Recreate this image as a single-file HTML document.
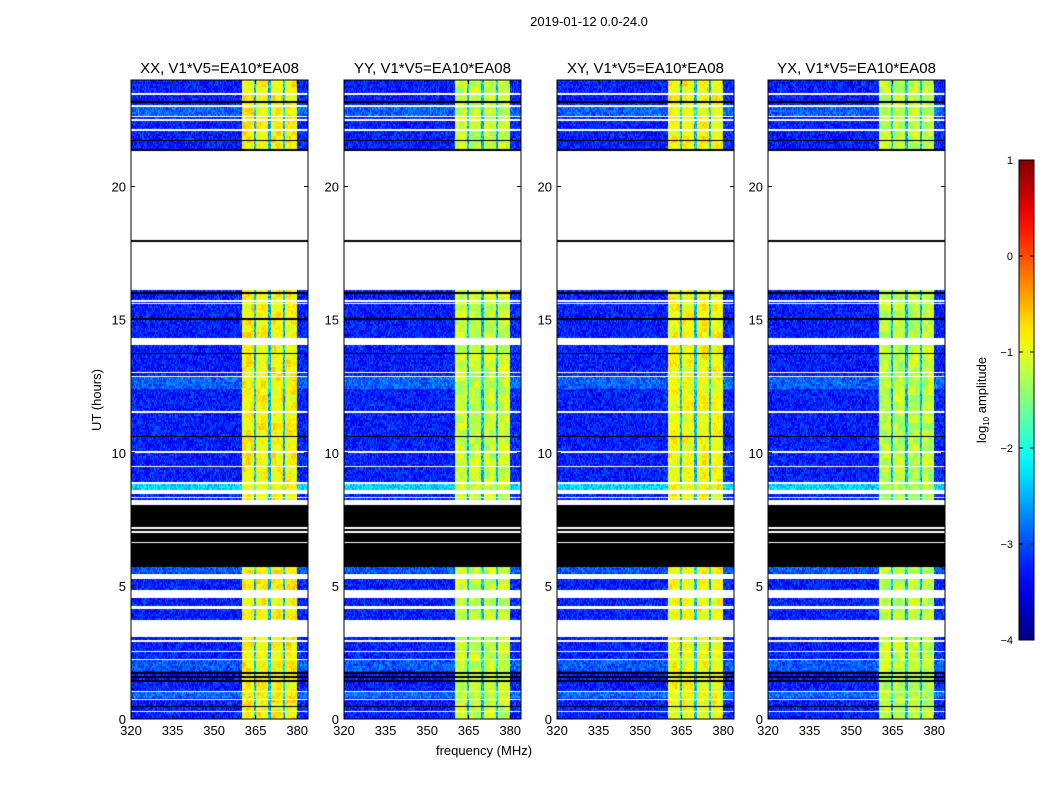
<!DOCTYPE html>
<html><head><meta charset="utf-8">
<style>
body{margin:0;background:#fff;width:1050px;height:800px;overflow:hidden;position:relative;font-family:"Liberation Sans",sans-serif;}
canvas{position:absolute;}
svg{position:absolute;left:0;top:0;}
</style></head>
<body>
<div id="panels"></div>
<svg id="ov" width="1050" height="800"></svg>
<script>
// ---- data arrays ----
const panelTitles = ["XX, V1*V5=EA10*EA08","YY, V1*V5=EA10*EA08","XY, V1*V5=EA10*EA08","YX, V1*V5=EA10*EA08"];
const panelLeft = [131,344,557,768];
const xTicks = [320,335,350,365,380];
const yTicks = [0,5,10,15,20];
const cbTicks = [1,0,-1,-2,-3,-4];
// frequency segments: [fStart, fEnd, level] (log10 amplitude); level 1 = use band level of panel
const freqSegs = [[320,360,-3.25],[360,364.5,1],[364.5,365.3,-2.5],[365.3,369.6,1],[369.6,370.4,-2.5],[370.4,374.8,1],[374.8,375.6,-2.5],[375.6,380,1],[380,384,-3.2]];
const bandLevel = [-0.85,-1.15,-0.9,-1.2];
// time rows: [tStart, tEnd, kind] kind: d=data, w=white(flagged), k=black
const timeRows = [
 [21.33,24,'d'],[23.45,23.52,'w'],[22.98,23.05,'w'],[22.6,22.66,'w'],[22.45,22.52,'w'],[22.08,22.15,'w'],[23.15,23.2,'k'],[21.7,21.76,'k'],[21.33,21.4,'k'],
 [17.95,21.33,'w'],[17.9,17.98,'k'],[16.11,17.9,'w'],
 [14.31,16.11,'d'],[15.66,15.72,'w'],[15.58,15.63,'w'],[15.98,16.02,'k'],[15.0,15.05,'k'],
 [14.05,14.31,'w'],[13.95,14.02,'w'],[13.85,13.9,'k'],
 [8.83,14.05,'d'],[12.98,13.04,'w'],[12.85,12.9,'w'],[11.5,11.55,'w'],[10.0,10.05,'w'],[9.45,9.5,'w'],[8.83,8.9,'w'],[13.7,13.74,'k'],[10.6,10.64,'k'],
 [8.6,8.83,'d'],[8.45,8.6,'w'],[8.23,8.45,'d'],[8.3,8.34,'w'],
 [8.04,8.23,'w'],[5.71,8.04,'k'],[7.15,7.2,'w'],[7.0,7.05,'w'],[6.6,6.65,'w'],
 [5.45,5.71,'d'],[5.26,5.45,'w'],[4.85,5.26,'d'],[4.54,4.85,'w'],[4.24,4.54,'d'],[4.12,4.24,'w'],[3.72,4.12,'d'],[3.08,3.72,'w'],
 [0,3.08,'d'],[2.9,2.95,'w'],[2.5,2.56,'w'],[2.2,2.26,'w'],[1.7,1.78,'k'],[1.55,1.6,'k'],[1.4,1.45,'k'],[1.0,1.06,'w'],[0.7,0.76,'w'],[0.25,0.3,'w'],[0.45,0.5,'k']
];
// rows with elevated background [tStart,tEnd,boost]
const boostRows = [[22.6,22.98,0.35],[12.4,12.85,0.35],[8.6,8.83,0.9],[5.5,5.71,0.3],[1.8,2.2,0.3],[0.8,1.0,0.4]];

const W=177,H=639,TOP=80,BOT=719;
const xs = f => (f-320)*2.77;
const ys = t => BOT-t*26.625;
function jet(v){let x=(v+4)/5;x=Math.max(0,Math.min(1,x));
 const c=a=>Math.max(0,Math.min(1,1.5-Math.abs(a)));
 return [c(4*x-3)*255,c(4*x-2)*255,c(4*x-1)*255];}
function hash(a,b){let h=(a*374761393+b*668265263)^0x5bd1e995;h=(h^(h>>>13))*1274126177;h^=h>>>16;return ((h>>>0)%1000)/1000;}

const panelsDiv=document.getElementById('panels');
panelLeft.forEach((L,p)=>{
 const cv=document.createElement('canvas');
 
 
 cv.width=W;cv.height=H;cv.style.left=L+'px';cv.style.top=TOP+'px';
 panelsDiv.appendChild(cv);
 const ctx=cv.getContext('2d');const img=ctx.createImageData(W,H);
 const kinds=new Array(H).fill('w');
 timeRows.forEach(r=>{const y0=Math.round(ys(r[1])-TOP),y1=Math.max(Math.round(ys(r[0])-TOP),y0+1);
  for(let y=Math.max(0,y0);y<Math.min(H,y1);y++)kinds[y]=r[2];});
 const boost=new Array(H).fill(0);
 boostRows.forEach(r=>{for(let y=Math.round(ys(r[1])-TOP);y<Math.round(ys(r[0])-TOP);y++)if(y>=0&&y<H)boost[y]=r[2];});
 const colBase=new Array(W).fill(-3);
 freqSegs.forEach(s=>{for(let x=Math.round(xs(s[0]));x<Math.round(xs(s[1]));x++)if(x<W)colBase[x]=s[2]===1?bandLevel[p]:s[2];});
 for(let y=0;y<H;y++)for(let x=0;x<W;x++){
  const i=(y*W+x)*4;let c;
  if(kinds[y]==='w')c=[255,255,255];else if(kinds[y]==='k')c=[0,0,0];
  else{const n=hash(x+p*999,Math.floor(y/2));let v;
   if(colBase[x]<-2){v=colBase[x]+(n-0.5)*0.75+boost[y];}
   else{v=colBase[x]+(n-0.5)*0.3+(hash(Math.floor(x/5),Math.floor(y/7)+p*31)-0.5)*0.45;}
   c=jet(v);}
  img.data[i]=c[0];img.data[i+1]=c[1];img.data[i+2]=c[2];img.data[i+3]=255;}
 ctx.putImageData(img,0,0);
});

// ---- overlay ----
const ov=document.getElementById('ov');const NS='http://www.w3.org/2000/svg';
function el(tag,attrs,txt){const e=document.createElementNS(NS,tag);for(const k in attrs)e.setAttribute(k,attrs[k]);if(txt!==undefined)e.textContent=txt;ov.appendChild(e);return e;}
let t=el('text',{x:589,y:26,'font-size':13,'text-anchor':'middle'},'2019-01-12 0.0-24.0');

panelLeft.forEach((L,p)=>{
 const f=el('rect',{x:L,y:TOP,width:W,height:H,fill:'none',stroke:'#000','stroke-width':1});
 
 const tt=el('text',{x:L+W/2,y:73,'font-size':15,'text-anchor':'middle'},panelTitles[p]);
 
 xTicks.forEach(v=>{const x=L+xs(v);
  el('line',{x1:x,y1:BOT,x2:x,y2:BOT-4,stroke:'#000'});el('line',{x1:x,y1:TOP,x2:x,y2:TOP+4,stroke:'#000'});
  const l=el('text',{x:x,y:BOT+16,'font-size':13,'text-anchor':'middle'},v);
  });
 yTicks.forEach(v=>{const y=ys(v);
  el('line',{x1:L,y1:y,x2:L+4,y2:y,stroke:'#000'});el('line',{x1:L+W,y1:y,x2:L+W-4,y2:y,stroke:'#000'});
  const l=el('text',{x:L-5,y:y+5,'font-size':13,'text-anchor':'end'},v);
  });
});
t=el('text',{x:0,y:0,'font-size':13,'text-anchor':'middle',transform:'translate(101,400) rotate(-90)'},'UT (hours)');

t=el('text',{x:484,y:755,'font-size':13,'text-anchor':'middle'},'frequency (MHz)');

const defs=el('defs',{});const g=document.createElementNS(NS,'linearGradient');
g.setAttribute('id','jetg');g.setAttribute('x1','0');g.setAttribute('y1','1');g.setAttribute('x2','0');g.setAttribute('y2','0');defs.appendChild(g);
for(let i=0;i<=20;i++){const v=-4+5*i/20;const c=jet(v);const s=document.createElementNS(NS,'stop');
 s.setAttribute('offset',i/20);s.setAttribute('stop-color',`rgb(${c.map(Math.round).join(',')})`);g.appendChild(s);}
const cb=el('rect',{x:1019,y:160,width:15,height:480,fill:'url(#jetg)',stroke:'#000','stroke-width':1});

cbTicks.forEach(v=>{const y=640-(v+4)*96;
 el('line',{x1:1019,y1:y,x2:1023,y2:y,stroke:'#000'});el('line',{x1:1034,y1:y,x2:1030,y2:y,stroke:'#000'});
 const l=el('text',{x:1013,y:y+4,'font-size':11,'text-anchor':'end'},v<0?'\u2212'+(-v):v);
 });
t=el('text',{x:0,y:0,'font-size':13,'text-anchor':'middle',transform:'translate(986,400) rotate(-90)'});

t.innerHTML='log<tspan font-size="8" dy="3">10</tspan><tspan dy="-3"> amplitude</tspan>';
</script>
</body></html>
